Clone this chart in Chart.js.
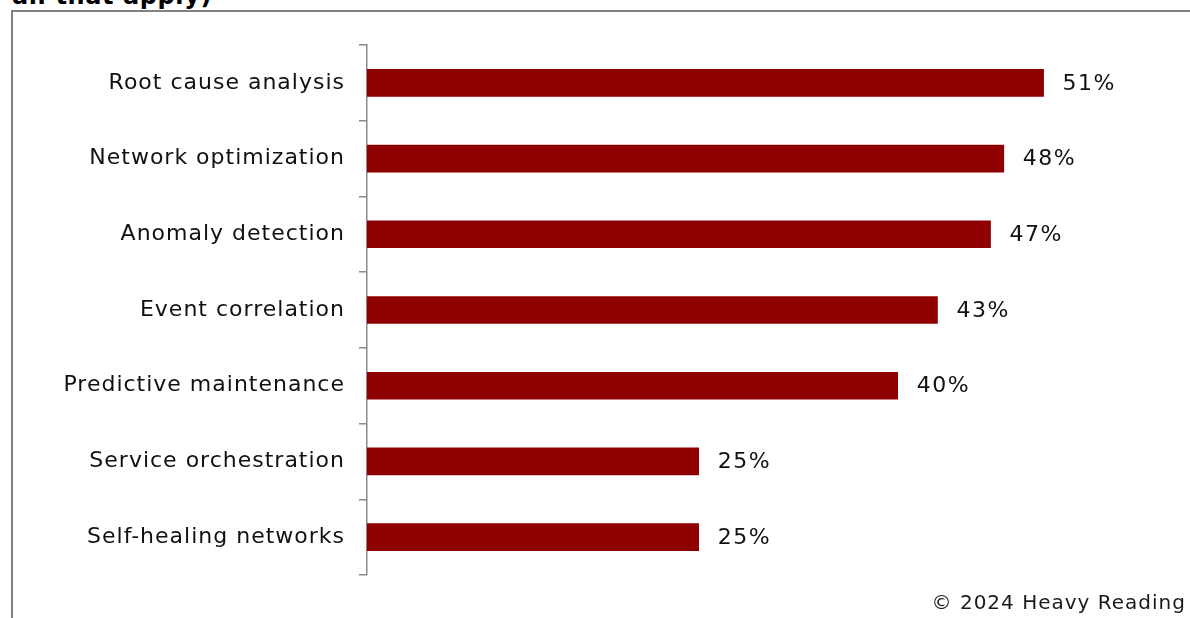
<!DOCTYPE html>
<html>
<head>
<meta charset="utf-8">
<title>AI use cases</title>
<script src="https://cdn.jsdelivr.net/npm/chart.js@4.4.1/dist/chart.umd.min.js"></script>
<style>
    html, body { margin: 0; padding: 0; background: #fff; overflow: hidden; }
    #wrap { position: relative; width: 1190px; height: 618px; }
    #title {
        position: absolute; left: 12px; top: -18px; letter-spacing: 0.6px;
        font: bold 24px "DejaVu Sans", sans-serif; color: #000; white-space: nowrap;
    }
    #frame {
        position: absolute; left: 11px; top: 10px; width: 1200px; height: 700px;
        border-left: 2px solid #808080; border-top: 2px solid #808080;
    }
    #chart { position: absolute; left: 0; top: 0; }
    #source {
        position: absolute; right: 4px; top: 590px; letter-spacing: 1px;
        font: 20px "DejaVu Sans", sans-serif; color: #1a1a1a; white-space: nowrap;
    }
</style>
</head>
<body>
<div id="wrap">
    <div id="title">all that apply)</div>
    <div id="frame"></div>
    <canvas id="chart" width="1190" height="618"></canvas>
    <div id="source">© 2024 Heavy Reading</div>
</div>
<script>
// Share of respondents per use case (%)
const categories = [
    'Root cause analysis',
    'Network optimization',
    'Anomaly detection',
    'Event correlation',
    'Predictive maintenance',
    'Service orchestration',
    'Self-healing networks'
];
const shares = [51, 48, 47, 43, 40, 25, 25];

const labelFont = { family: 'DejaVu Sans', size: 22 };

// Slightly looser tracking for all canvas text
const tracking = {
    id: 'tracking',
    beforeDraw(chart) {
        chart.ctx.letterSpacing = '1px';
    }
};

// Percent labels just past the end of each bar
const valueLabels = {
    id: 'valueLabels',
    afterDatasetsDraw(chart) {
        const ctx = chart.ctx;
        const meta = chart.getDatasetMeta(0);
        ctx.save();
        ctx.font = labelFont.size + 'px "' + labelFont.family + '"';
        ctx.letterSpacing = '1.5px';
        ctx.fillStyle = '#111';
        ctx.textAlign = 'left';
        ctx.textBaseline = 'middle';
        meta.data.forEach((bar, i) => {
            ctx.fillText(shares[i] + '%', bar.x + 19, bar.y + 1);
        });
        ctx.restore();
    }
};

new Chart(document.getElementById('chart'), {
    type: 'bar',
    data: {
        labels: categories,
        datasets: [{
            data: shares,
            backgroundColor: '#8f0000',
            borderWidth: 0,
            barThickness: 27
        }]
    },
    options: {
        indexAxis: 'y',
        responsive: false,
        animation: false,
        layout: { padding: { top: 45, bottom: 43, left: 0, right: 27 } },
        plugins: {
            legend: { display: false },
            tooltip: { enabled: false }
        },
        scales: {
            x: {
                display: false,
                min: 0,
                max: 60
            },
            y: {
                afterFit(scale) { scale.width = 367; },
                border: { color: '#8a8a8a', width: 1.5 },
                grid: {
                    offset: true,
                    drawOnChartArea: false,
                    drawTicks: true,
                    tickLength: 8,
                    color: '#8a8a8a',
                    lineWidth: 1.5
                },
                ticks: {
                    color: '#111',
                    font: labelFont,
                    padding: 14
                }
            }
        }
    },
    plugins: [tracking, valueLabels]
});
</script>
</body>
</html>
